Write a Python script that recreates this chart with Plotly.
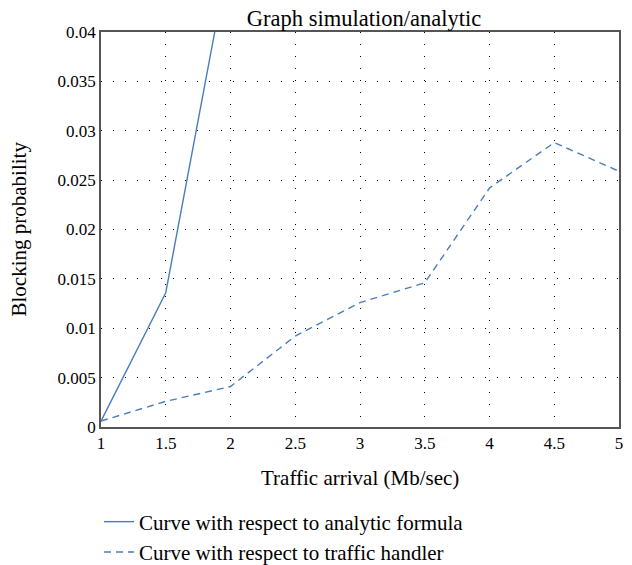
import plotly.graph_objects as go

x_vals = [1, 1.5, 2, 2.5, 3, 3.5, 4, 4.5, 5]
analytic_x = [1, 1.5, 2]
analytic_y = [0.0006, 0.0136, 0.0485]
handler_y = [0.0006, 0.0026, 0.0041, 0.0092, 0.0126, 0.0146, 0.0242, 0.0288, 0.0259]

x_ticks = [1, 1.5, 2, 2.5, 3, 3.5, 4, 4.5, 5]
x_ticktext = ["1", "1.5", "2", "2.5", "3", "3.5", "4", "4.5", "5"]
y_ticks = [0, 0.005, 0.01, 0.015, 0.02, 0.025, 0.03, 0.035, 0.04]
y_ticktext = ["0", "0.005", "0.01", "0.015", "0.02", "0.025", "0.03", "0.035", "0.04"]

color = "#4a7ebb"
font = "Liberation Serif, Times New Roman, serif"

# page body has an 8px default margin, so the figure is offset by 8px in the page
W, H = 624, 557

fig = go.Figure()
fig.add_trace(go.Scatter(x=analytic_x, y=analytic_y, mode="lines",
                         name="Curve with respect to analytic formula",
                         line=dict(color=color, width=1.4)))
fig.add_trace(go.Scatter(x=x_vals, y=handler_y, mode="lines",
                         name="Curve with respect to traffic handler",
                         line=dict(color=color, width=1.4, dash="7px,5px")))

fig.update_layout(
    width=W, height=H,
    margin=dict(l=93, r=13, t=24, b=138, autoexpand=False),
    paper_bgcolor="white", plot_bgcolor="white",
    font=dict(family=font, size=16, color="black"),
    title=dict(text="Graph simulation/analytic", x=356 / W, xanchor="center",
               y=1 - 10 / H, yanchor="middle", font=dict(size=22.5)),
    xaxis=dict(range=[1, 5], tickvals=x_ticks, ticktext=x_ticktext,
               showgrid=True, gridcolor="black", gridwidth=1, griddash="1px,11px",
               showline=True, linecolor="#555", linewidth=1.5, mirror=True,
               ticks="", zeroline=False, automargin=False,
               tickfont=dict(size=17)),
    yaxis=dict(range=[0, 0.04], tickvals=y_ticks, ticktext=y_ticktext,
               showgrid=True, gridcolor="black", gridwidth=1, griddash="1px,11px",
               showline=True, linecolor="#555", linewidth=1.5, mirror=True,
               ticks="", zeroline=False, automargin=False,
               tickfont=dict(size=17)),
    legend=dict(xref="container", yref="container", x=91 / W, xanchor="left",
                y=1 - 493.5 / H, yanchor="top",
                orientation="v", bgcolor="rgba(0,0,0,0)",
                font=dict(size=21), tracegroupgap=0),
    showlegend=True,
    annotations=[
        dict(text="Traffic arrival (Mb/sec)", xref="paper", yref="paper",
             x=0.5, y=0, xanchor="center", yanchor="middle", yshift=-51,
             showarrow=False, font=dict(size=21)),
        dict(text="Blocking probability", xref="paper", yref="paper",
             x=0, y=0.5, xanchor="center", yanchor="middle", xshift=-83,
             textangle=-90, showarrow=False, font=dict(size=21)),
    ],
)

fig.write_html("out.html")
